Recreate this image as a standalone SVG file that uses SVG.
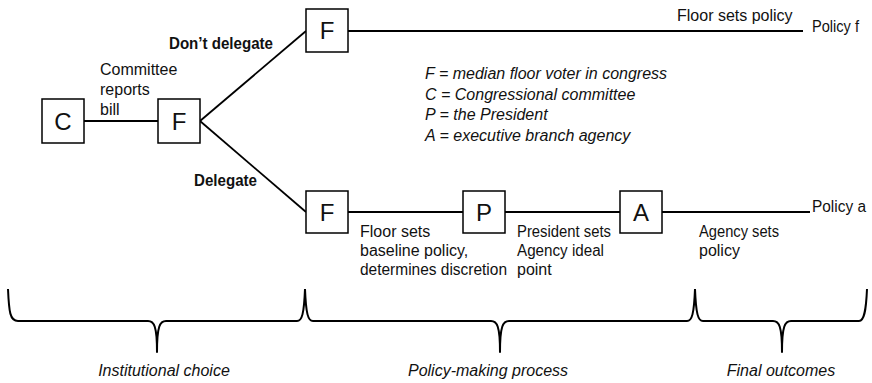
<svg xmlns="http://www.w3.org/2000/svg" width="872" height="383" viewBox="0 0 872 383">
<style>
  text { font-family: "Liberation Sans", Arial, sans-serif; font-size: 16px; fill: #111; }
  .box { fill: #fff; stroke: #000; stroke-width: 1.5; }
  .letter { font-size: 24px; text-anchor: middle; }
  .bold { font-weight: bold; }
  .it { font-style: italic; }
  .mid { text-anchor: middle; }
  .edge { fill: none; stroke: #000; stroke-width: 1.8; }
  .brace { fill: none; stroke: #000; stroke-width: 2; stroke-linejoin: round; }
</style>
<rect width="872" height="383" fill="#fff"/>

<g id="connectors">
  <line class="edge" x1="84" y1="121" x2="158" y2="121"/>
  <line class="edge" x1="200" y1="121" x2="306" y2="31"/>
  <line class="edge" x1="200" y1="121" x2="306" y2="212"/>
  <line class="edge" x1="348" y1="31" x2="803" y2="31"/>
  <line class="edge" x1="348" y1="212" x2="463" y2="212"/>
  <line class="edge" x1="505" y1="212" x2="620" y2="212"/>
  <line class="edge" x1="662" y1="212" x2="810" y2="212"/>
</g>

<g id="node-C">
  <rect class="box" x="42" y="99" width="42" height="44"/>
  <text class="letter" x="63" y="130">C</text>
</g>
<g id="node-F1">
  <rect class="box" x="158" y="99" width="42" height="44"/>
  <text class="letter" x="179" y="130">F</text>
</g>
<g id="node-F-top">
  <rect class="box" x="306" y="9" width="42" height="43"/>
  <text class="letter" x="327" y="39">F</text>
</g>
<g id="node-F-bottom">
  <rect class="box" x="306" y="191" width="42" height="42"/>
  <text class="letter" x="327" y="221">F</text>
</g>
<g id="node-P">
  <rect class="box" x="463" y="191" width="42" height="42"/>
  <text class="letter" x="484" y="221">P</text>
</g>
<g id="node-A">
  <rect class="box" x="620" y="191" width="42" height="42"/>
  <text class="letter" x="641" y="221">A</text>
</g>

<g id="labels">
  <text x="100" y="75">Committee</text>
  <text x="100" y="95">reports</text>
  <text x="100" y="115">bill</text>
  <text class="bold" x="169" y="49" textLength="104" lengthAdjust="spacingAndGlyphs">Don’t delegate</text>
  <text class="bold" x="194" y="186" textLength="63" lengthAdjust="spacingAndGlyphs">Delegate</text>
  <text x="677" y="21">Floor sets policy</text>
  <text x="812" y="32" textLength="47" lengthAdjust="spacingAndGlyphs">Policy f</text>
  <text x="812" y="212" textLength="54" lengthAdjust="spacingAndGlyphs">Policy a</text>
  <text x="360" y="237">Floor sets</text>
  <text x="360" y="256">baseline policy,</text>
  <text x="360" y="275" textLength="147" lengthAdjust="spacingAndGlyphs">determines discretion</text>
  <text x="517" y="237" textLength="94" lengthAdjust="spacingAndGlyphs">President sets</text>
  <text x="517" y="256" textLength="87" lengthAdjust="spacingAndGlyphs">Agency ideal</text>
  <text x="517" y="275">point</text>
  <text x="699" y="237" textLength="80" lengthAdjust="spacingAndGlyphs">Agency sets</text>
  <text x="699" y="256">policy</text>
</g>

<g id="legend">
  <text class="it" x="425" y="79">F = median floor voter in congress</text>
  <text class="it" x="425" y="99.5">C = Congressional committee</text>
  <text class="it" x="425" y="120">P = the President</text>
  <text class="it" x="425" y="140.5">A = executive branch agency</text>
</g>

<g id="braces">
  <path class="brace" d="M8,289 C9,312 10,321 18,321 L148,321 C154,321 157,326 157,352 C157,326 160,321 166,321 L297,321 C302,321 304,314 305,289"/>
  <path class="brace" d="M305,289 C306,314 308,321 313,321 L491,321 C497,321 500,326 500,352 C500,326 503,321 509,321 L687,321 C692,321 694,314 695,289"/>
  <path class="brace" d="M695,289 C696,314 698,321 703,321 L773,321 C779,321 782,326 782,352 C782,326 785,321 791,321 L859,321 C864,321 866,312 867,289"/>
  <text class="it mid" x="164" y="376">Institutional choice</text>
  <text class="it mid" x="488" y="376">Policy-making process</text>
  <text class="it mid" x="781" y="376">Final outcomes</text>
</g>
</svg>
